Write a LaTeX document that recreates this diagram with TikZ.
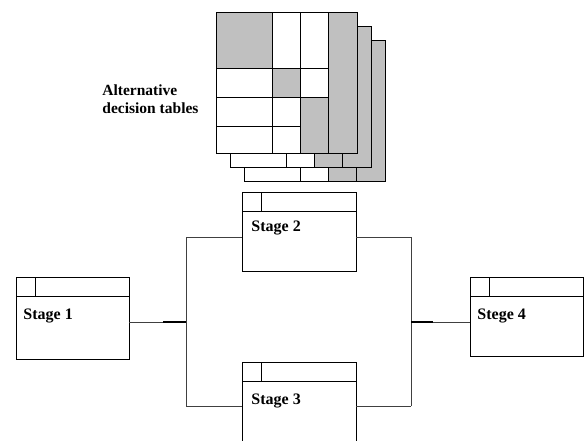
\documentclass[tikz,border=0pt]{standalone}
\usepackage{fontspec}
\setmainfont{Liberation Serif}
\definecolor{cellgray}{RGB}{192,192,192}
\begin{document}
\begin{tikzpicture}[x=1pt, y=1pt, line width=.9pt,
  stage/.style={rectangle,draw,minimum width=113pt,minimum height=79pt,inner sep=0pt,
    path picture={\draw ([yshift=-19pt]path picture bounding box.north west) -- ([yshift=-19pt]path picture bounding box.north east)
      ([xshift=19pt]path picture bounding box.north west) -- ([xshift=19pt,yshift=-19pt]path picture bounding box.north west);}},
  stage label/.style={anchor=north west,inner sep=0pt,font=\fontsize{16}{18}\selectfont\bfseries},
  wire/.style={line width=.7pt,black!75},
  joint/.style={line width=2pt}]
\useasboundingbox (0,0) rectangle (584,440);
% stacked tables
\foreach \s in {28,14,0}{
\begin{scope}[shift={(\s,-\s)}]
\foreach \xa/\ya/\xb/\yb/\c in {216/372/272/428/cellgray, 272/372/300/428/white, 300/372/328/428/white,
    328/287/357/428/cellgray, 216/343/272/372/white, 272/343/300/372/cellgray, 300/343/328/372/white,
    216/314/272/343/white, 272/314/300/343/white, 300/287/328/343/cellgray,
    216/287/272/314/white, 272/287/300/314/white}
  \filldraw[fill=\c] (\xa,\ya) rectangle (\xb,\yb);
\end{scope}}
\node [anchor=west,align=left,inner sep=0pt,font=\fontsize{15.5}{18}\selectfont\bfseries] (alt) at (102,341) {Alternative\\decision tables};
% stages
\node [stage,minimum height=82pt] (s1) at (72.5,122) {};
\node [stage,minimum width=114pt] (s2) at (299,208.5) {};
\node [stage,minimum width=114pt] (s3) at (299,38.5) {};
\node [stage] (s4) at (526.5,123.5) {};
\node [stage label] (l1) at (23,132) {Stage 1};
\node [stage label] (l2) at (251,220) {Stage 2};
\node [stage label] (l3) at (251,47) {Stage 3};
\node [stage label] (l4) at (477,132) {Stege 4};
% branches
\coordinate (b1) at (186,118);
\coordinate (b2) at (186,203);
\coordinate (b3) at (186,34);
\coordinate (b4) at (411,203);
\coordinate (b5) at (411,34);
\coordinate (b6) at (411,118);
\path [wire]
	(s1.east |- b1) edge (b1)
	(b2) edge (b3)
	(b2) edge (s2.west |- b2)
	(b3) edge (s3.west |- b3)
	(s2.east |- b4) edge (b4)
	(b4) edge (b5)
	(b5) edge (s3.east |- b5)
	(b6) edge (s4.west |- b6)
	;
\draw [joint] (b1) -- ++(-23,0);
\draw [joint] (b6) -- ++(22,0);
\end{tikzpicture}
\end{document}
